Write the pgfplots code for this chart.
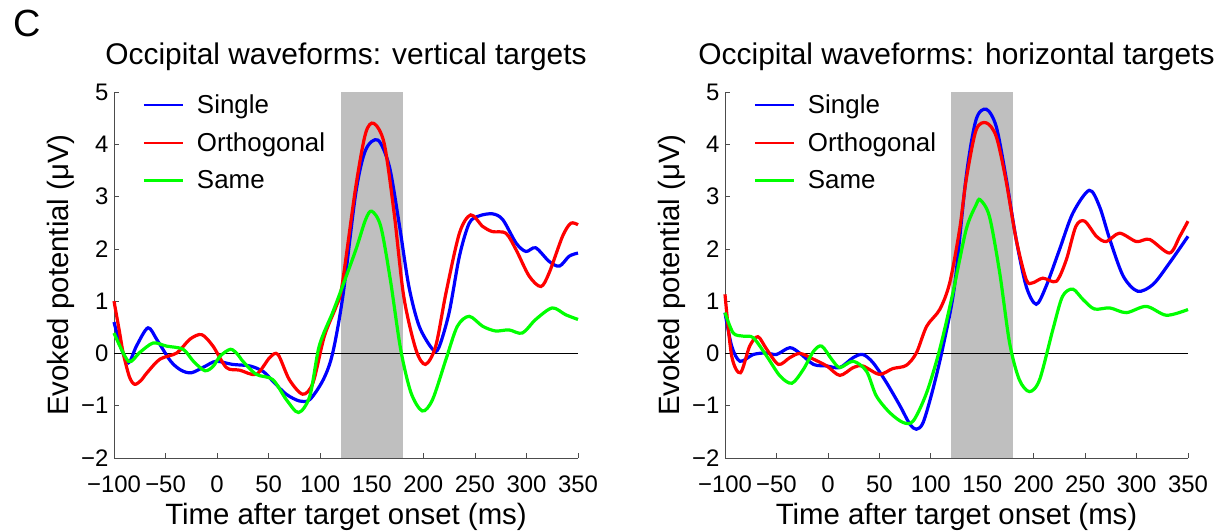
\documentclass[border=0pt]{standalone}
\usepackage{pgfplots}
\pgfplotsset{compat=1.18}
\usepackage{fontspec}
\setmainfont{Liberation Sans}
\definecolor{shade}{RGB}{191,191,191}
\pgfplotsset{
  erp/.style={
    scale only axis, width=464bp, height=366bp,
    xmin=-100, xmax=350, ymin=-2, ymax=5,
    axis lines=left, axis line style={-, black!70, line width=0.7bp},
    tick align=inside, major tick length=5bp,
    tick style={black!70, line width=0.7bp},
    xtick={-100,-50,0,50,100,150,200,250,300,350},
    xticklabels={−100,−50,0,50,100,150,200,250,300,350},
    ytick={-2,-1,0,1,2,3,4,5},
    yticklabels={−2,−1,0,1,2,3,4,5},
    ticklabel style={font=\fontsize{24}{25}\selectfont},
    xticklabel style={yshift=-14bp},
    yticklabel style={xshift=-2bp},
    label style={font=\fontsize{29.5}{32}\selectfont},
    xlabel style={yshift=-4bp},
    title style={font=\fontsize{30}{32}\selectfont, yshift=12bp},
    xlabel={Time after target onset (ms)},
    ylabel={Evoked potential (μV)},
    legend style={at={(0.055,1.0)}, anchor=north west, draw=none, fill=none,
      font=\fontsize{26}{28}\selectfont, row sep=13.5bp, yshift=1bp,
      /tikz/every odd column/.append style={column sep=11bp}},
    legend cell align=left,
    legend image code/.code={\draw[line width=2.3bp] (0bp,0bp) -- (39bp,0bp);},
    every axis plot/.append style={line width=3.2bp},
    clip=false,
  }
}
\begin{document}
\begin{tikzpicture}
\path[use as bounding box] (0bp,0bp) rectangle (1224bp,-531bp);
\node[font=\fontsize{38}{40}\selectfont, anchor=center] at (27bp,-23bp) {C};
% ---------------- left ----------------
\begin{axis}[erp, at={(114bp,-458bp)}, anchor=south west,
  title={Occipital waveforms: vertical targets}]
\addplot[draw=none, fill=shade, line width=0pt, forget plot] coordinates {(120,-2) (180,-2) (180,5) (120,5)} -- cycle;
\addplot[black, line width=0.8bp, forget plot] coordinates {(-100,0) (350,0)};
\addplot[blue, smooth] coordinates {
(-100,0.6) (-93,0.1) (-86,-0.18) (-78,0.15) (-67,0.49) (-58,0.25) (-45,-0.15) (-35,-0.32) (-25,-0.37) (-12,-0.25) (-1,-0.15) (15,-0.21) (32,-0.24) (45,-0.35) (54,-0.53) (67,-0.78) (80,-0.91) (90,-0.88) (103,-0.5) (112,0) (122,1.1) (134.5,3.07) (144,3.89) (156,4.08) (167,3.58) (176.5,2.49) (186,1.28) (196,0.52) (209,0.08) (215,0.11) (225,0.78) (235,1.86) (244.5,2.49) (254,2.63) (267,2.67) (277,2.56) (290,2.11) (299.5,1.95) (309,2.02) (322,1.76) (332,1.67) (341.5,1.86) (350,1.92)};
\addlegendentry{Single}
\addplot[red, smooth] coordinates {
(-100,1.0) (-95,0.45) (-91,0) (-85,-0.45) (-80,-0.59) (-74,-0.52) (-68,-0.37) (-55.5,-0.11) (-39,0.01) (-26.5,0.27) (-15,0.36) (-4,0.14) (9,-0.27) (22,-0.32) (38,-0.40) (51,-0.08) (59,-0.02) (70,-0.5) (83,-0.78) (93,-0.56) (104,0.33) (115.5,0.9) (121,1.28) (134.5,3.19) (144,4.21) (152,4.40) (162,4.02) (171.7,2.68) (181,1.09) (192.7,0.08) (202,-0.21) (212,0.14) (222,1.16) (235,2.30) (246,2.65) (257.5,2.43) (267,2.33) (280,2.30) (290,1.98) (302.6,1.48) (314,1.28) (322,1.54) (335,2.24) (343,2.49) (350,2.46)};
\addlegendentry{Orthogonal}
\addplot[green, smooth] coordinates {
(-100,0.39) (-86,-0.15) (-75,0.02) (-62,0.2) (-49,0.14) (-33,0.08) (-23,-0.15) (-12,-0.33) (-4,-0.25) (3,-0.05) (13,0.08) (20,-0.02) (25,-0.15) (38,-0.40) (54,-0.50) (67,-0.88) (79,-1.13) (90,-0.81) (99,0.14) (112,0.78) (121,1.25) (134.5,1.98) (144,2.56) (150,2.72) (158.7,2.43) (168,1.41) (178,0.08) (188,-0.75) (199,-1.10) (209,-0.88) (222,-0.11) (233,0.52) (244.5,0.71) (257.5,0.52) (270,0.43) (283,0.45) (296,0.39) (309,0.65) (325,0.87) (338,0.74) (350,0.65)};
\addlegendentry{Same}
\end{axis}
% ---------------- right ----------------
\begin{axis}[erp, at={(725bp,-458bp)}, anchor=south west, width=463bp,
  title={Occipital waveforms: horizontal targets}]
\addplot[draw=none, fill=shade, line width=0pt, forget plot] coordinates {(120,-2) (180,-2) (180,5) (120,5)} -- cycle;
\addplot[black, line width=0.8bp, forget plot] coordinates {(-100,0) (350,0)};
\addplot[blue, smooth] coordinates {
(-100,0.78) (-93.5,0.14) (-85.4,-0.15) (-72.5,-0.02) (-59.5,0.01) (-50,-0.02) (-37,0.11) (-27,0) (-14,-0.21) (-1,-0.24) (11.6,-0.27) (24.6,-0.08) (34,-0.02) (44,-0.18) (57,-0.56) (70,-1.0) (79.6,-1.35) (86,-1.45) (92.6,-1.32) (102,-0.69) (112,0.14) (123,1.28) (134.4,3.38) (144,4.47) (154,4.67) (163.6,4.34) (173,3.38) (183,2.18) (192.8,1.28) (202.5,0.94) (212,1.28) (225,1.98) (238,2.68) (254,3.12) (264,2.81) (274,2.18) (287,1.48) (301,1.19) (316,1.32) (332,1.73) (350,2.24)};
\addlegendentry{Single}
\addplot[red, smooth] coordinates {
(-100,1.13) (-93.5,-0.05) (-85,-0.37) (-76,0.14) (-68,0.32) (-59.5,0.08) (-48,-0.21) (-37,-0.08) (-27,0) (-14,-0.11) (-1,-0.24) (11.6,-0.42) (24.6,-0.27) (34,-0.24) (50,-0.40) (63,-0.29) (76,-0.23) (86,0.01) (96,0.52) (108.7,0.84) (118.4,1.35) (128,2.37) (134.4,3.32) (144,4.27) (154,4.41) (163.6,4.15) (173,3.32) (183,2.18) (192.8,1.41) (199,1.35) (209,1.44) (222,1.38) (231.7,1.79) (241,2.43) (249.5,2.53) (261,2.24) (270.6,2.14) (283.5,2.30) (299.8,2.14) (312.7,2.18) (332,1.92) (342,2.24) (350,2.53)};
\addlegendentry{Orthogonal}
\addplot[green, smooth] coordinates {
(-100,0.78) (-92,0.39) (-82,0.33) (-72.5,0.30) (-59.5,-0.05) (-46.6,-0.43) (-35,-0.57) (-24,-0.31) (-14,0.04) (-6,0.14) (3.6,-0.11) (11.6,-0.27) (24.6,-0.15) (37.5,-0.34) (47,-0.81) (60,-1.13) (73,-1.32) (83,-1.29) (96,-0.75) (108.7,0.08) (121.5,1.16) (134.4,2.37) (144,2.84) (148,2.94) (157,2.62) (167,1.54) (176.6,0.20) (186,-0.50) (196,-0.73) (205.8,-0.50) (218.7,0.46) (228,1.09) (238,1.23) (248,1.03) (259,0.85) (274,0.87) (290,0.78) (309.5,0.90) (329,0.73) (350,0.84)};
\addlegendentry{Same}
\end{axis}
\end{tikzpicture}
\end{document}
